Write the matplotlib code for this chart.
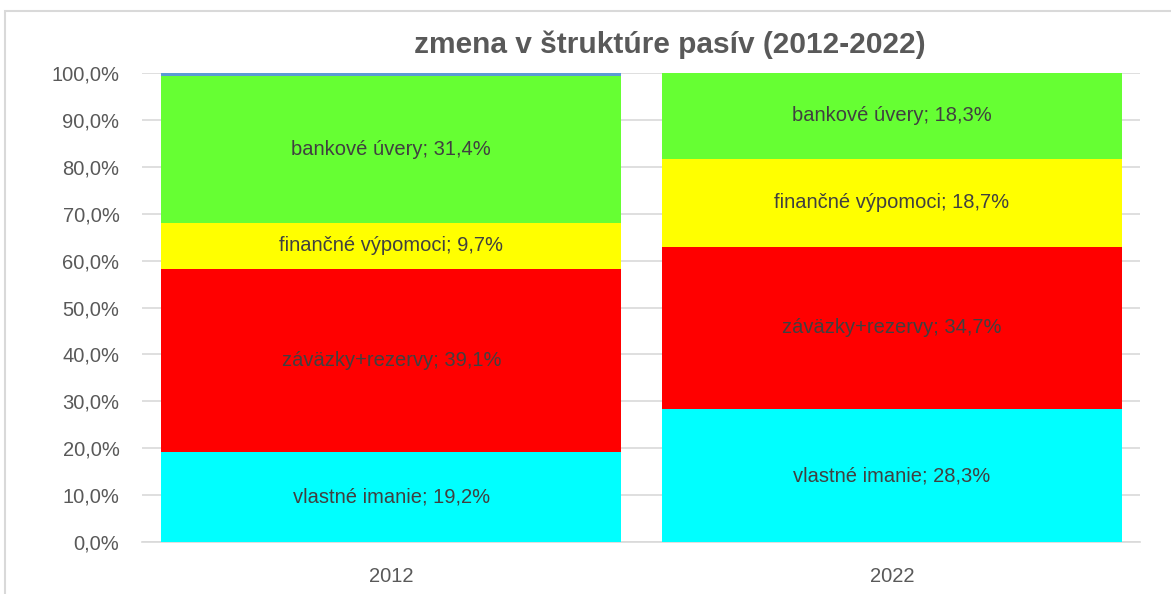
import matplotlib
matplotlib.use("Agg")
import matplotlib.pyplot as plt
from matplotlib.ticker import FuncFormatter
from matplotlib.patches import Rectangle

# údaje
roky = ["2012", "2022"]
nazvy = ["vlastné imanie", "záväzky+rezervy", "finančné výpomoci", "bankové úvery", "ostatné"]
vlastne_imanie = [19.2, 28.3]
zavazky_rezervy = [39.1, 34.7]
financne_vypomoci = [9.7, 18.7]
bankove_uvery = [31.4, 18.3]
ostatne = [0.6, 0.0]

serie = [vlastne_imanie, zavazky_rezervy, financne_vypomoci, bankove_uvery, ostatne]
farby = ["#00FFFF", "#FF0000", "#FFFF00", "#66FF33", "#5B9BD5"]

plt.rcParams['font.family'] = ['Liberation Sans', 'DejaVu Sans']

fig = plt.figure(figsize=(11.71, 5.94), dpi=100)
ax = fig.add_axes([0.121, 0.0875, 0.8525, 0.7895])

# ramček grafu
fig.patches.append(Rectangle((5 / 1171, -0.1), 1.2, 1.1 - 11 / 594, transform=fig.transFigure,
                             fill=False, edgecolor="#d9d9d9", linewidth=1.5))

x = range(len(roky))
spodok = [0.0, 0.0]
for i, (hodnoty, farba) in enumerate(zip(serie, farby)):
    ax.bar(x, hodnoty, bottom=spodok, width=0.918, color=farba, zorder=3)
    for j, h in enumerate(hodnoty):
        if h >= 1 and i < 4:
            txt = "%s; %s%%" % (nazvy[i], ("%.1f" % h).replace(".", ","))
            ax.text(j, spodok[j] + h / 2, txt, ha="center", va="center",
                    fontsize=14.5, color="#404040", zorder=4)
    spodok = [s + h for s, h in zip(spodok, hodnoty)]

ax.set_xlim(-0.4985, 1.4955)
ax.set_ylim(0, 100)
ax.set_yticks(range(0, 101, 10))
ax.yaxis.set_major_formatter(FuncFormatter(lambda v, p: ("%.1f%%" % v).replace(".", ",")))
ax.set_xticks(list(x))
ax.set_xticklabels(roky)
ax.tick_params(axis="both", length=0, labelsize=14.5, labelcolor="#595959")
ax.tick_params(axis="x", pad=18)
ax.tick_params(axis="y", pad=16)
ax.grid(axis="y", color="#d9d9d9", linewidth=1.2, zorder=0)
for s in ["left", "right", "top"]:
    ax.spines[s].set_visible(False)
ax.spines["bottom"].set_color("#d9d9d9")
ax.spines["bottom"].set_linewidth(1.2)

fig.text(0.572, 0.925, "zmena v štruktúre pasív (2012-2022)", ha="center", va="center",
         fontsize=21.5, fontweight="bold", color="#595959")

fig.savefig("out.png", dpi=100)
